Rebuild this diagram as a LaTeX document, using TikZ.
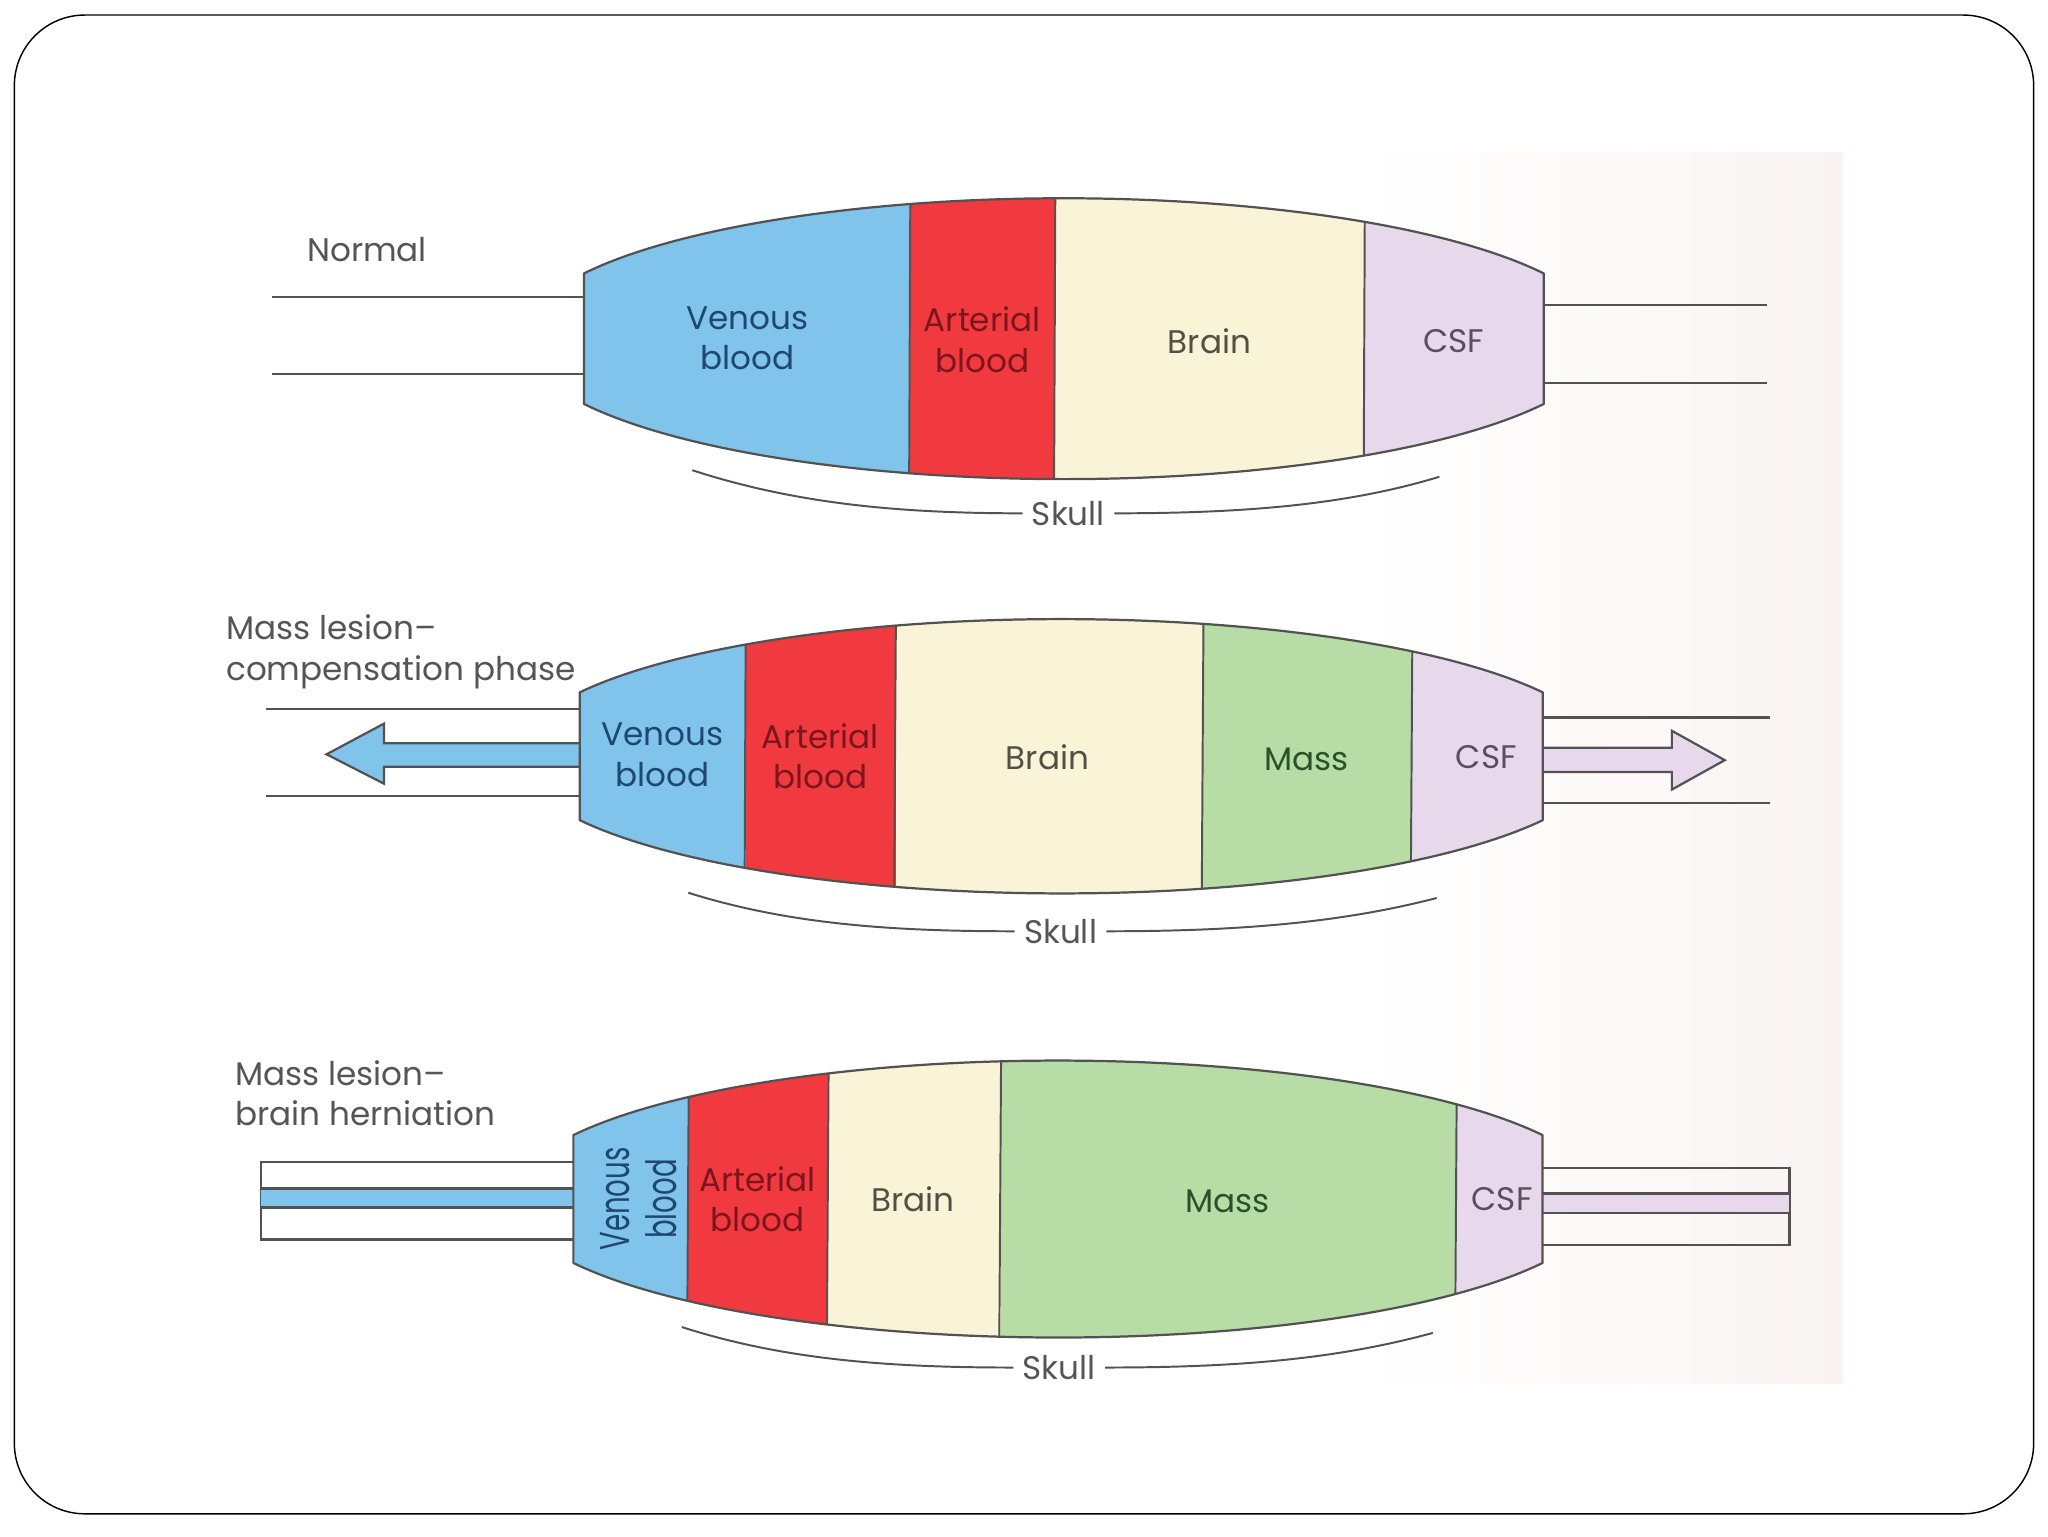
\documentclass[tikz,border=0pt]{standalone}
\usepackage{fontspec}
\setmainfont{Poppins}
\usepackage{graphicx}

\definecolor{venous}{RGB}{128,196,236}
\definecolor{arterial}{RGB}{240,58,64}
\definecolor{brain}{RGB}{249,243,216}
\definecolor{csf}{RGB}{232,216,236}
\definecolor{mass}{RGB}{184,220,166}
\definecolor{edge}{RGB}{82,82,82}
\definecolor{graytxt}{RGB}{85,85,85}
\definecolor{venoustxt}{RGB}{30,72,112}
\definecolor{arttxt}{RGB}{125,22,28}
\definecolor{braintxt}{RGB}{82,80,66}
\definecolor{csftxt}{RGB}{88,80,96}
\definecolor{masstxt}{RGB}{42,82,42}
\definecolor{scanpink}{RGB}{249,244,242}

% capsule: cx, cy, A, B, t0
\newcommand\capsulepath[5]{(#1pt,#2pt) ++(#5:#3pt and #4pt)
  arc[start angle=#5, end angle={180-#5}, x radius=#3pt, y radius=#4pt]
  -- ++(0pt,{-2*#4*sin(#5)*1pt})
  arc[start angle={180+#5}, end angle={360-#5}, x radius=#3pt, y radius=#4pt] -- cycle}

\tikzset{
  outline/.style={draw=edge, line width=1.7pt, line join=round},
  divider/.style={draw=edge, line width=1.5pt},
  tube/.style={draw=edge, line width=1.7pt},
  skullline/.style={draw=edge, line width=1.5pt},
  lbl/.style={font=\fontsize{25}{31}\selectfont, align=center, inner sep=0pt},
  sidelbl/.style={font=\fontsize{25}{31}\selectfont, align=left, inner sep=0pt, anchor=west, text=graytxt},
  skulltxt/.style={font=\fontsize{25}{31}\selectfont, inner xsep=7pt, inner ysep=0pt, text=graytxt},
  frame/.style={draw=black, line width=1.1pt, rounded corners=54pt},
}

\begin{document}
\begin{tikzpicture}[x=1pt,y=1pt]
\useasboundingbox (0,0) rectangle (1568,-1176);
\fill[white] (0,0) rectangle (1568,-1176);
% scanned page tint
\shade[left color=white, right color=scanpink] (1040,-117) rectangle (1411,-1059);
% frame
\draw[frame] (11,-11.5) rectangle (1557,-1159);

%================ Diagram 1 : Normal
\node[sidelbl] (lab1) at (235,-191) {Normal};
\draw[tube] (208,-227.2) -- (447,-227.2);
\draw[tube] (208,-286.5) -- (447,-286.5);
\draw[tube] (1182,-233.5) -- (1352.5,-233.5);
\draw[tube] (1182,-293) -- (1352.5,-293);
\begin{scope}
  \clip \capsulepath{814.5}{-259.3}{415}{107.5}{27.7};
  \fill[venous] (430,-140) rectangle (697,-380);
  \fill[arterial] (697,-140) rectangle (808,-380);
  \fill[brain] (808,-140) rectangle (1045,-380);
  \fill[csf] (1045,-140) rectangle (1200,-380);
  \draw[divider] (697,-140) -- (696,-380);
  \draw[divider] (808,-140) -- (807,-380);
  \draw[divider] (1045,-140) -- (1044,-380);
\end{scope}
\draw[outline] \capsulepath{814.5}{-259.3}{415}{107.5}{27.7};
\node[lbl, text=venoustxt] (v1) at (572,-259) {Venous\\blood};
\node[lbl, text=arttxt] (a1) at (752,-260) {Arterial\\blood};
\node[lbl, text=braintxt] (b1) at (926,-261) {Brain};
\node[lbl, text=csftxt] (c1) at (1113,-261) {CSF};
\node[skulltxt] (s1) at (818,-393) {Skull};
\coordinate (s1a) at (530,-360);
\coordinate (s1b) at (1102,-365);
\draw[skullline] (s1a) .. controls (610,-386) and (690,-393) .. (s1.west);
\draw[skullline] (s1.east) .. controls (950,-393) and (1030,-387) .. (s1b);

%================ Diagram 2 : compensation
\node[sidelbl] (lab2) at (173,-499) {Mass lesion–\\compensation phase};
\draw[tube] (204,-543) -- (444,-543);
\draw[tube] (204,-609.5) -- (444,-609.5);
\draw[tube] (1181,-549.3) -- (1355.5,-549.3);
\draw[tube] (1181,-614.6) -- (1355.5,-614.6);
% left arrow (venous out)
\fill[venous] (446,-569) -- (294,-569) -- (294,-554) -- (250,-577.5) -- (294,-600) -- (294,-587) -- (446,-587) -- cycle;
\draw[tube, line join=miter] (444,-569) -- (294,-569) -- (294,-554) -- (250,-577.5) -- (294,-600) -- (294,-587) -- (444,-587);
% right arrow (CSF out)
\fill[csf] (1179,-572.5) -- (1280,-572.5) -- (1280,-559.5) -- (1320.5,-582) -- (1280,-604.5) -- (1280,-591) -- (1179,-591) -- cycle;
\draw[tube, line join=miter] (1181,-572.5) -- (1280,-572.5) -- (1280,-559.5) -- (1320.5,-582) -- (1280,-604.5) -- (1280,-591) -- (1181,-591);
\begin{scope}
  \clip \capsulepath{812.5}{-579}{416.7}{105}{27.8};
  \fill[venous] (430,-460) rectangle (571,-700);
  \fill[arterial] (571,-460) rectangle (686,-700);
  \fill[brain] (686,-460) rectangle (921,-700);
  \fill[mass] (921,-460) rectangle (1081,-700);
  \fill[csf] (1081,-460) rectangle (1200,-700);
  \draw[divider] (571,-460) -- (570,-700);
  \draw[divider] (686,-460) -- (684.5,-700);
  \draw[divider] (921.5,-460) -- (920,-700);
  \draw[divider] (1081.5,-460) -- (1080,-700);
\end{scope}
\draw[outline] \capsulepath{812.5}{-579}{416.7}{105}{27.8};
\node[lbl, text=venoustxt] (v2) at (507,-578) {Venous\\blood};
\node[lbl, text=arttxt] (a2) at (628,-579) {Arterial\\blood};
\node[lbl, text=braintxt] (b2) at (802,-580) {Brain};
\node[lbl, text=masstxt] (m2) at (1000,-581) {Mass};
\node[lbl, text=csftxt] (c2) at (1138,-580) {CSF};
\node[skulltxt] (s2) at (812,-713) {Skull};
\coordinate (s2a) at (527,-683.5);
\coordinate (s2b) at (1100,-687.5);
\draw[skullline] (s2a) .. controls (605,-708) and (685,-713) .. (s2.west);
\draw[skullline] (s2.east) .. controls (945,-713) and (1025,-707) .. (s2b);

%================ Diagram 3 : herniation
\node[sidelbl] (lab3) at (180,-837) {Mass lesion–\\brain herniation};
% left tube
\draw[tube] (441,-889.5) -- (200,-889.5) -- (200,-949) -- (441,-949);
\fill[venous] (200,-910) rectangle (441,-924.5);
\draw[tube] (200,-910) -- (441,-910);
\draw[tube] (200,-924.5) -- (441,-924.5);
% right tube
\draw[tube] (1179,-894) -- (1370,-894) -- (1370,-953.3) -- (1179,-953.3);
\fill[csf] (1179,-913.7) rectangle (1370,-928.6);
\draw[tube] (1179,-913.7) -- (1370,-913.7);
\draw[tube] (1179,-928.6) -- (1370,-928.6);
\begin{scope}
  \clip \capsulepath{810}{-918}{418.3}{106}{27.5};
  \fill[venous] (425,-800) rectangle (527,-1040);
  \fill[arterial] (527,-800) rectangle (634,-1040);
  \fill[brain] (634,-800) rectangle (766,-1040);
  \fill[mass] (766,-800) rectangle (1115,-1040);
  \fill[csf] (1115,-800) rectangle (1200,-1040);
  \draw[divider] (527.5,-800) -- (526,-1040);
  \draw[divider] (634.5,-800) -- (633,-1040);
  \draw[divider] (766.5,-800) -- (765,-1040);
  \draw[divider] (1115.5,-800) -- (1114,-1040);
\end{scope}
\draw[outline] \capsulepath{810}{-918}{418.3}{106}{27.5};
\node[lbl, text=venoustxt, rotate=90, font=\fontsize{32}{36}\selectfont] (v3) at (489,-918)
  {\scalebox{0.66}[1]{Venous}\\\scalebox{0.66}[1]{blood}};
\node[lbl, text=arttxt] (a3) at (580,-918) {Arterial\\blood};
\node[lbl, text=braintxt] (b3) at (699,-918) {Brain};
\node[lbl, text=masstxt] (m3) at (940,-920) {Mass};
\node[lbl, text=csftxt] (c3) at (1150,-918) {CSF};
\node[skulltxt] (s3) at (811,-1047) {Skull};
\coordinate (s3a) at (522,-1016);
\coordinate (s3b) at (1097,-1020.5);
\draw[skullline] (s3a) .. controls (600,-1041) and (680,-1047) .. (s3.west);
\draw[skullline] (s3.east) .. controls (945,-1047) and (1022,-1041) .. (s3b);
\end{tikzpicture}
\end{document}
